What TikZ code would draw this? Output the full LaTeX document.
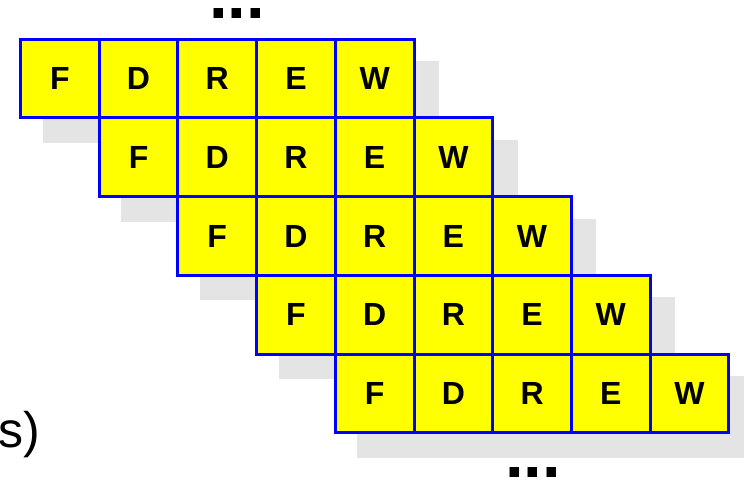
\documentclass[tikz,border=0pt]{standalone}
\usepackage{fontspec}
\setmainfont{Liberation Sans}
\definecolor{shadowgray}{RGB}{228,228,228}
\definecolor{cellyellow}{RGB}{255,255,0}
\definecolor{cellblue}{RGB}{0,0,255}
\tikzset{
  cellbox/.style={draw=cellblue, fill=cellyellow, line width=3pt,
    minimum width=78.7pt, minimum height=78.7pt, inner sep=0pt,
    font=\bfseries\fontsize{32}{32}\selectfont, text=black},
  rowshadow/.style={fill=shadowgray},
  dotstext/.style={anchor=base west, inner sep=0pt,
    font=\bfseries\fontsize{67}{67}\selectfont},
  sidetext/.style={anchor=base west, inner sep=0pt,
    font=\fontsize{50}{50}\selectfont}
}
\begin{document}
\begin{tikzpicture}[x=1pt,y=-1pt]
\useasboundingbox (0,0) rectangle (744,481);
% shadows
\foreach \k in {0,...,4}{
  \fill[rowshadow] ({20.5+78.7*\k+22},{39.3+78.7*\k+22}) rectangle ({20.5+78.7*(\k+5)+25},{39.3+78.7*(\k+1)+25});
}
% cells
\foreach \k in {0,...,4}{
  \foreach \j/\l in {0/F,1/D,2/R,3/E,4/W}{
    \node[cellbox] (c-\k-\j) at ({20.5+78.7*(\k+\j)+39.35},{39.3+78.7*\k+39.35}) {\l};
  }
}
% dots and side text
\node[dotstext] (topdots) at (209,19) {...};
\node[dotstext] (botdots) at (505,477) {...};
\node[sidetext] (side) at (-1.5,447) {s)};
\end{tikzpicture}
\end{document}
